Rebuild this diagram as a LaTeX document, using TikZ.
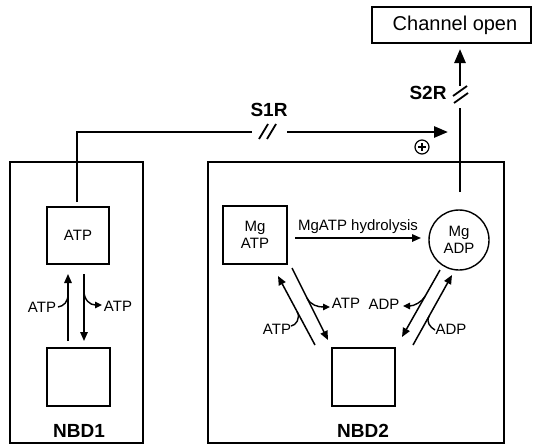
\documentclass[tikz,border=0pt]{standalone}
\usepackage{fontspec}
\setmainfont{Liberation Sans}
\usetikzlibrary{arrows.meta,calc}
\begin{document}
\begin{tikzpicture}[x=1pt,y=-1pt,
  box/.style={draw,line width=1.4pt,inner sep=0pt,rectangle},
  lab/.style={font=\fontsize{15}{17}\selectfont,inner sep=0pt},
  blab/.style={font=\bfseries\fontsize{19}{22}\selectfont,inner sep=0pt},
  bigline/.style={line width=2.6pt},
  bigarrow/.style={line width=2.6pt,-{Triangle[length=14pt,width=11pt]}},
  rx/.style={line width=1.5pt,-{Triangle[length=9pt,width=7.5pt]}},
  curl/.style={line width=1.4pt},
  curlarr/.style={line width=1.4pt,-{Triangle[length=7pt,width=6.5pt]}},
  brk/.style={line width=1.8pt},
]
\useasboundingbox (0,0) rectangle (535,447);

% outer domain boxes
\node[box,minimum width=133pt,minimum height=281pt] (nbd1) at (76.5,302.5) {};
\node[box,minimum width=296pt,minimum height=281pt] (nbd2) at (356,302.5) {};
\node[blab] (nbd1lab) at (79,431) {NBD1};
\node[blab] (nbd2lab) at (363,431) {NBD2};

% NBD1 states
\node[box,minimum width=62pt,minimum height=57pt,lab] (atp1) at (78,235.5) {ATP};
\node[box,minimum width=63pt,minimum height=58pt] (low1) at (78.5,377) {};
\coordinate (u1s) at (68,341);
\coordinate (u1e) at (68,274);
\coordinate (d1s) at (84,274);
\coordinate (d1e) at (84,341);
\draw[rx] (u1s) -- (u1e);
\draw[rx] (d1s) -- (d1e);
\node[lab] (atpin1) at (42,307) {ATP};
\node[lab] (atpout1) at (118,306) {ATP};
\draw[curl] (58,307) .. controls (64,306) and (68,302) .. (68,294);
\draw[curlarr] (84,291) .. controls (84,300) and (90,305) .. (102,305);

% NBD2 states
\node[box,minimum width=64pt,minimum height=58pt,lab,align=center] (mgatp) at (255,235) {Mg\\ATP};
\node[draw,circle,line width=1.4pt,minimum size=60pt,inner sep=0pt,lab,align=center] (mgadp) at (459,240) {Mg\\ADP};
\node[box,minimum width=63pt,minimum height=58pt] (low2) at (363.5,377) {};

\draw[rx] (295,238) -- (421,238);
\node[lab] (hydlab) at (358,227) {MgATP hydrolysis};

% left pair
\draw[rx] (315,345) -- (278,276);
\draw[rx] (292,268) -- (328,340);
\node[lab] (atpout2) at (346,303) {ATP};
\draw[curlarr] (307,298) .. controls (310.6,305.2) and (318,307) .. (330,307);
\node[lab] (atpin2) at (277,329) {ATP};
\draw[curl] (291,326) .. controls (296,325.5) and (300.6,318.2) .. (297.3,312);

% right pair
\draw[rx] (440,270) -- (402,337);
\draw[rx] (413,345) -- (452,275);
\node[lab] (adpout) at (384,304) {ADP};
\draw[curlarr] (425.3,296) .. controls (421.8,302.1) and (414,306) .. (403,306);
\node[lab] (adpin) at (451,329) {ADP};
\draw[curl] (435,330) .. controls (430,327) and (425.8,322.1) .. (429.2,316);

% top: channel open
\node[box,minimum width=159pt,minimum height=36pt] (chan) at (451.5,25) {};
\node[font=\fontsize{20}{24}\selectfont,inner sep=0pt] (chanlab) at (455,25) {Channel open};

% S1R pathway
\coordinate (s1a) at (77,202);
\coordinate (s1b) at (77,132);
\coordinate (s1c) at (252,132);
\coordinate (s1d) at (287,132);
\coordinate (s1e) at (448,132);
\draw[bigline] (s1a) -- (s1b) -- (s1c);
\draw[bigarrow] (s1d) -- (s1e);
\draw[brk] (259,139) -- (268,124);
\draw[brk] (267,139) -- (276,124);
\node[blab] (s1rlab) at (269,110) {S1R};
\node[draw,circle,line width=1.2pt,minimum size=14pt,inner sep=0pt] (plus) at (422,147) {};
\draw[line width=1.2pt] ($(plus.center)+(-4,0)$) -- ($(plus.center)+(4,0)$);
\draw[line width=1.2pt] ($(plus.center)+(0,-4)$) -- ($(plus.center)+(0,4)$);

% S2R pathway
\coordinate (s2a) at (460,192);
\coordinate (s2b) at (460,108);
\coordinate (s2c) at (460,86);
\coordinate (s2d) at (460,49);
\draw[bigline] (s2a) -- (s2b);
\draw[bigarrow] (s2c) -- (s2d);
\draw[brk] (453,96) -- (467,86);
\draw[brk] (454,103) -- (468,93);
\node[blab] (s2rlab) at (428,93) {S2R};
\end{tikzpicture}
\end{document}
